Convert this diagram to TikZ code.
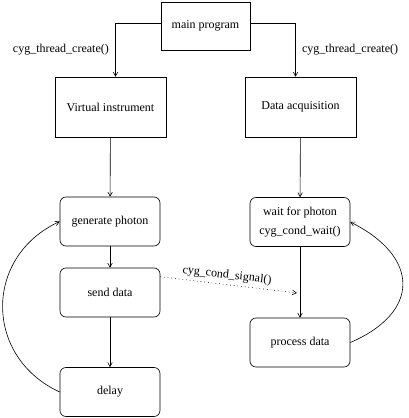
\documentclass[tikz,border=0pt]{standalone}
\usepackage{fontspec}
\setmainfont{Liberation Serif}
\usetikzlibrary{arrows.meta,positioning,calc}
\tikzset{
	block/.style={rectangle,draw,line width=.6pt,minimum width=111pt,minimum height=60pt,inner sep=2pt,font=\fontsize{12}{14}\selectfont},
	mainblock/.style={block,minimum width=89pt,minimum height=48pt},
	roundblock/.style={block,rounded corners=6pt,minimum width=100pt,minimum height=49pt,align=center},
	diredge/.style={->,>={Straight Barb[length=4pt,width=4.5pt]},line width=.6pt},
	sigedge/.style={->,>={Straight Barb[length=4pt,width=4.5pt]},line width=.6pt,dash pattern=on .7pt off 3pt},
	calllabel/.style={font=\fontsize{12}{14}\selectfont, text centered}
}

\begin{document}
\begin{tikzpicture}[x=1pt,y=1pt]
		\useasboundingbox (0,0) rectangle (408,418);
		%%%threads
		\node[mainblock] (mainprog) at (205.5,392) {main program};
		\node[block] (virtinst) at (110.5,311) {Virtual instrument};
		\node[block] (dataacq) at (300.5,311) {Data acquisition};
		
		%%%left loop
		\node[roundblock] (genphot) at (110,196.5) {generate photon};
		\node[roundblock] (senddata) at (110,125.5) {send data};
		\node[roundblock] (delay) at (110,26) {delay};
		
		%%%right loop
		\node[roundblock] (waitphot) at (300,196) {wait for photon\\[5pt]cyg\_cond\_wait()};
		\node[roundblock] (procdata) at (300,75.5) {process data};
		\coordinate (sigend) at (297,125);
		
		\draw[diredge] ([yshift=3pt]mainprog.west) -| node[calllabel,pos=0.75,left,xshift=-3pt] {cyg\_thread\_create()} ([xshift=5pt]virtinst.north);
		\draw[diredge] ([yshift=3pt]mainprog.east) -| node[calllabel,pos=0.75,right,xshift=3pt] {cyg\_thread\_create()} ([xshift=-5pt]dataacq.north);
		
		\draw[diredge] (virtinst) -- (genphot);
		\draw[diredge] (genphot) -- (senddata);
		\draw[diredge] (senddata) -- (delay);
		\draw[diredge] (dataacq) -- (waitphot);
		\draw[diredge] (waitphot) -- (procdata);
		
		\draw[diredge] (delay.west) .. controls +(-76,35) and +(-76,-35) .. (genphot.west);
		\draw[diredge] (procdata.east) .. controls +(70,30) and +(70,-35) .. (waitphot.east);
		
		\draw[sigedge] ([yshift=-9pt]senddata.north east) -- node[calllabel,sloped,above,pos=0.48] {cyg\_cond\_signal()} (sigend);
	\end{tikzpicture}
\end{document}
